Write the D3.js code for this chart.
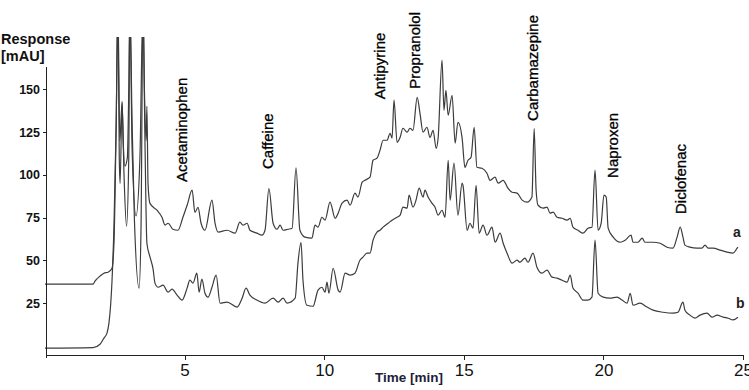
<!DOCTYPE html>
<head>
  <title>Chromatogram</title>
  <script src="https://d3js.org/d3.v7.min.js"></script>
  <style>
  body {margin: 0; background: white;}
  svg {font-family: "Liberation Sans", Arial, sans-serif;}
  .trace {fill: none; stroke: #3c3c3c; stroke-width: 1.2px;}
  .axis path, .axis line {stroke: #222; shape-rendering: crispEdges;}
  .peakLabel {font-size: 15px; fill: #000; stroke: #000; stroke-width: 0.3px;}
  </style>
</head>
<body>
  <svg id="chart" width="749" height="390"></svg>
  <script>
  // trace a (upper) : [time in min, response in mAU]
  var traceA = [
    [0, 36.1], [1.72, 36.1], [1.79, 37.9], [1.97, 40.8], [2.11, 42.5], [2.26, 43.1], [2.40, 45.4],
    [2.47, 60], [2.55, 130], [2.61, 200], [2.66, 110], [2.69, 95], [2.76, 143], [2.80, 120],
    [2.86, 105], [2.95, 110], [3.00, 150], [3.04, 200], [3.12, 115], [3.26, 76], [3.40, 110],
    [3.51, 200], [3.56, 150], [3.62, 120], [3.65, 140], [3.69, 95], [3.76, 83.3], [4.01, 79.3],
    [4.19, 75.2], [4.30, 70.6], [4.41, 71.7], [4.58, 68.2], [4.76, 67.6], [4.94, 75.2], [5.09, 82.2],
    [5.27, 91], [5.37, 78], [5.48, 81], [5.59, 71.7], [5.73, 67.6], [5.98, 85.2], [6.09, 71.7],
    [6.20, 66.5], [6.52, 67.6], [6.81, 65.9], [6.98, 72.3], [7.09, 70.6], [7.24, 71.7], [7.34, 67.6],
    [7.59, 65.9], [7.77, 64.7], [7.88, 67.6], [8.02, 92], [8.17, 71.7], [8.31, 68.2], [8.42, 70.6],
    [8.53, 67.6], [8.70, 68.2], [8.85, 68.8], [8.99, 104], [9.13, 67.6], [9.31, 63.6], [9.56, 63],
    [9.67, 70.6], [9.78, 69.4], [9.92, 75.2], [10.03, 73.5], [10.21, 84], [10.39, 74.6], [10.50, 77.6],
    [10.64, 83.4], [10.82, 85.2], [10.93, 82.2], [11.10, 89.3], [11.21, 87], [11.36, 95.7],
    [11.46, 96.8], [11.64, 98.6], [11.75, 108.5], [11.89, 109.7], [12.00, 114.4], [12.11, 120.2],
    [12.25, 120.2], [12.36, 124.3], [12.43, 121.4], [12.50, 143.6], [12.61, 119], [12.72, 121.9],
    [12.82, 127.2], [12.97, 124.9], [13.07, 127.2], [13.18, 126], [13.33, 145.3], [13.43, 136],
    [13.54, 124.9], [13.68, 127.8], [13.79, 121.9], [13.90, 126], [14.01, 115.5], [14.08, 121.4],
    [14.22, 167], [14.29, 137.7], [14.36, 149.4], [14.44, 134.8], [14.58, 146.5], [14.69, 118.5],
    [14.79, 130.7], [14.94, 121.4], [15.04, 104.4], [15.15, 108.5], [15.26, 110.3], [15.37, 127.8],
    [15.47, 104.4], [15.65, 103.8], [15.83, 100.9], [15.94, 96.8], [16.12, 98.6], [16.23, 95.1],
    [16.41, 96.8], [16.58, 92.2], [16.73, 89.8], [16.91, 89.3], [17.09, 85.2], [17.27, 84],
    [17.44, 87], [17.52, 127], [17.59, 91], [17.66, 82.2], [17.84, 80.5], [17.98, 81.1], [18.09, 77.6],
    [18.20, 78.2], [18.34, 75.2], [18.52, 74.6], [18.70, 73.5], [18.81, 74.6], [18.91, 69.4],
    [19.09, 67.6], [19.27, 65.9], [19.45, 68.8], [19.59, 69.4], [19.70, 102.7], [19.81, 67.6],
    [19.92, 71.7], [20.02, 88.1], [20.10, 87], [20.17, 68.8], [20.35, 63.6], [20.60, 60.6],
    [20.78, 61.8], [20.99, 64.7], [21.06, 60.6], [21.24, 60.6], [21.39, 63], [21.49, 60.6],
    [21.78, 60.6], [22.03, 60], [22.28, 57.7], [22.49, 57.1], [22.64, 63.6], [22.75, 69.4],
    [22.85, 63.6], [22.92, 58.9], [23.10, 57.7], [23.35, 57.1], [23.53, 57.1], [23.64, 58.9],
    [23.75, 57.1], [23.93, 57.1], [24.18, 56], [24.43, 54.8], [24.64, 54.2], [24.79, 57.1], [24.82, 57.7]
  ];

  // trace b (lower)
  var traceB = [
    [0, -1.3], [1.72, -1.0], [1.97, 1.0], [2.11, 4.6], [2.22, 7.5], [2.29, 13.3], [2.40, 38],
    [2.47, 70], [2.55, 130], [2.61, 200], [2.68, 120], [2.76, 142], [2.83, 100], [2.92, 70],
    [3.00, 110], [3.04, 200], [3.12, 130], [3.20, 75], [3.37, 33.8], [3.44, 70], [3.51, 200],
    [3.58, 120], [3.65, 60], [3.76, 52], [3.87, 45], [3.94, 36.7], [4.05, 34.3], [4.23, 35.5],
    [4.41, 31.4], [4.55, 33.2], [4.73, 29.7], [4.91, 26.8], [5.09, 33.8], [5.19, 38.4], [5.30, 36.7],
    [5.44, 42.5], [5.52, 31.4], [5.62, 39], [5.73, 30.8], [5.84, 28.5], [5.98, 34.3], [6.13, 41.4],
    [6.27, 25], [6.52, 25.6], [6.88, 22.7], [7.06, 27.9], [7.20, 33.8], [7.34, 29.7], [7.59, 26.8],
    [7.88, 25], [8.17, 27.9], [8.35, 25.6], [8.53, 27.9], [8.67, 25], [8.96, 27.9], [9.06, 48.4],
    [9.17, 60.6], [9.24, 38.4], [9.38, 23.8], [9.60, 23.2], [9.78, 32.6], [9.92, 34.3], [10.03, 31.4],
    [10.10, 37.3], [10.17, 30.8], [10.32, 45.4], [10.50, 32.6], [10.57, 31.4], [10.75, 42.5],
    [10.93, 41.4], [11.10, 42.5], [11.28, 50.1], [11.39, 51.9], [11.53, 54.2], [11.64, 54.2],
    [11.75, 61.8], [11.89, 66.5], [12.00, 67.6], [12.11, 69.4], [12.29, 71.7], [12.43, 73.5],
    [12.61, 75.2], [12.72, 76.4], [12.82, 81.1], [12.97, 80.5], [13.04, 88.1], [13.18, 81.1],
    [13.29, 85.2], [13.40, 92.2], [13.54, 87], [13.61, 91], [13.72, 87], [13.86, 83.4], [13.97, 81.1],
    [14.08, 76.4], [14.22, 79.3], [14.33, 75.2], [14.44, 108.5], [14.51, 85.2], [14.65, 106.8],
    [14.79, 76.4], [14.94, 95.1], [14.97, 93.9], [15.12, 67.6], [15.22, 71.7], [15.33, 68.8],
    [15.44, 93.9], [15.55, 65.9], [15.69, 70.6], [15.83, 64.7], [16.01, 69.4], [16.12, 60.6],
    [16.30, 65.9], [16.41, 60], [16.55, 54.2], [16.73, 48.4], [16.91, 50.1], [17.01, 48.9],
    [17.19, 51.3], [17.30, 48.9], [17.48, 54.2], [17.62, 46], [17.80, 42.5], [17.98, 44.3],
    [18.16, 40.2], [18.34, 39.6], [18.52, 38.4], [18.70, 37.3], [18.81, 41.4], [18.91, 33.8],
    [19.09, 30.8], [19.27, 26.8], [19.45, 26.8], [19.59, 28.5], [19.70, 61.8], [19.81, 30.8],
    [19.99, 28.5], [20.24, 27.9], [20.49, 28.5], [20.67, 26.8], [20.85, 25], [20.96, 30.8],
    [21.06, 23.8], [21.31, 25], [21.56, 22.7], [21.78, 20.9], [22.14, 19.7], [22.49, 19.2],
    [22.67, 19.7], [22.85, 25.6], [22.92, 20.9], [23.10, 18], [23.28, 16.2], [23.46, 18],
    [23.71, 19.2], [23.89, 16.8], [24.07, 18], [24.29, 16.8], [24.47, 16.2], [24.64, 15.2], [24.82, 16.8]
  ];

  var xTicks = [5, 10, 15, 20, 25];
  var yTicks = [25, 50, 75, 100, 125, 150];

  // compound names and the retention time / height where the label sits
  var peakNames = ["Acetaminophen", "Caffeine", "Antipyrine", "Propranolol", "Carbamazepine", "Naproxen", "Diclofenac"];
  var peakTimes = [5.09, 8.17, 12.18, 13.43, 17.66, 20.52, 22.96];
  var peakBase = [95.8, 103.4, 144.1, 150.3, 131.5, 98.2, 77.1];

  var svg = d3.select("#chart");
  var x = d3.scaleLinear().domain([0, 25]).range([45, 743]);
  var y = d3.scaleLinear().domain([-5.3, 163]).range([355, 67]);

  svg.append("clipPath").attr("id", "plotClip")
    .append("rect").attr("x", 45).attr("y", 37).attr("width", 704).attr("height", 320);

  var line = d3.line()
    .x(function(d) { return x(d[0]); })
    .y(function(d) { return y(d[1]); })
    .curve(d3.curveMonotoneX);

  svg.append("path").datum(traceB).attr("class", "trace")
    .attr("clip-path", "url(#plotClip)").attr("d", line);
  svg.append("path").datum(traceA).attr("class", "trace")
    .attr("clip-path", "url(#plotClip)").attr("d", line);

  // axes
  var xAxis = svg.append("g").attr("class", "axis")
    .attr("transform", "translate(0,355)")
    .call(d3.axisBottom(x).tickValues(xTicks).tickSize(5).tickPadding(4).tickSizeOuter(0));
  xAxis.select(".domain").attr("d", "M46,0H743");
  xAxis.selectAll("text").attr("font-size", 17).attr("fill", "#111").attr("font-family", null);

  var yAxis = svg.append("g").attr("class", "axis")
    .attr("transform", "translate(46,0)")
    .call(d3.axisLeft(y).tickValues(yTicks).tickSize(3).tickPadding(3).tickSizeOuter(0));
  yAxis.select(".domain").attr("d", "M0,67V358");
  yAxis.selectAll("text").attr("font-size", 12.5).attr("font-weight", "bold")
    .attr("fill", "#111").attr("font-family", null);

  // axis titles
  svg.append("text").attr("x", 1).attr("y", 44)
    .attr("font-size", 14.5).attr("font-weight", "bold").attr("fill", "#111")
    .text("Response");
  svg.append("text").attr("x", 1).attr("y", 61)
    .attr("font-size", 14.5).attr("font-weight", "bold").attr("fill", "#111")
    .text("[mAU]");
  svg.append("text").attr("x", 409).attr("y", 382)
    .attr("text-anchor", "middle")
    .attr("font-size", 13.5).attr("font-weight", "bold").attr("fill", "#1f1f3a")
    .text("Time [min]");

  // compound labels (rotated)
  svg.selectAll("text.peakLabel").data(peakNames).enter().append("text")
    .attr("class", "peakLabel")
    .attr("transform", function(d, i) {
      return "translate(" + x(peakTimes[i]) + "," + y(peakBase[i]) + ") rotate(-90)";
    })
    .text(function(d) { return d; });

  // trace labels
  svg.append("text").attr("x", x(24.64)).attr("y", y(63.5))
    .attr("font-size", 14).attr("font-weight", "bold").attr("fill", "#222").text("a");
  svg.append("text").attr("x", x(24.75)).attr("y", y(22))
    .attr("font-size", 14).attr("font-weight", "bold").attr("fill", "#222").text("b");
  </script>
</body>
